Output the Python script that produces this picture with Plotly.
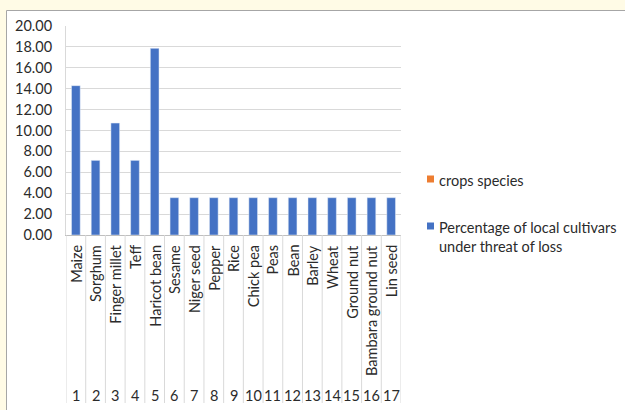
import plotly.graph_objects as go

numbers = list(range(1, 18))
crops = ["Maize", "Sorghum", "Finger millet", "Teff", "Haricot bean", "Sesame",
         "Niger seed", "Pepper", "Rice", "Chick pea", "Peas", "Bean", "Barley",
         "Wheat", "Ground nut", "Bambara ground nut", "Lin seed"]
percent = [14.29, 7.14, 10.71, 7.14, 17.86, 3.57, 3.57, 3.57, 3.57, 3.57,
           3.57, 3.57, 3.57, 3.57, 3.57, 3.57, 3.57]
y_ticks = [0, 2, 4, 6, 8, 10, 12, 14, 16, 18, 20]
legend_names = ["crops species", "Percentage of local cultivars<br>under threat of loss"]
legend_colors = ["#ED7D31", "#4472C4"]

W, H = 625, 410
L, R, T, B = 66, 224, 26, 175
pw, ph = W - L - R, H - T - B

def px_x(p):
    return (p - L) / pw

def px_y(p):
    return (H - B - p) / ph

FONT = "Lato"
FS = 14.5
TXT = "#2b2b2b"

fig = go.Figure()
fig.add_trace(go.Bar(x=numbers, y=percent, marker_color=legend_colors[1],
                     width=0.44, showlegend=False))

shapes = []
# chart frame
shapes.append(dict(type="rect", xref="paper", yref="paper",
                   x0=px_x(6.5), x1=px_x(700), y0=px_y(10.5), y1=px_y(500),
                   line=dict(color="#a6a6a6", width=1), fillcolor="white", layer="below"))
# category separators
for n in [numbers[0] - 0.5] + [v + 0.5 for v in numbers]:
    shapes.append(dict(type="line", xref="x", yref="paper", x0=n, x1=n,
                       y0=0, y1=px_y(403), line=dict(color="#d9d9d9", width=1)))

annotations = []
for n, c in zip(numbers, crops):
    annotations.append(dict(x=n, y=px_y(243), xref="x", yref="paper", text=c,
                            showarrow=False, textangle=-90, xanchor="center", yanchor="top",
                            font=dict(family=FONT, size=FS, color=TXT)))
    annotations.append(dict(x=n, y=px_y(395), xref="x", yref="paper", text=str(n),
                            showarrow=False, xanchor="center", yanchor="middle",
                            font=dict(family=FONT, size=FS, color=TXT)))

# legend
leg_y = [179, 226]
for name, col, yy in zip(legend_names, legend_colors, leg_y):
    shapes.append(dict(type="rect", xref="paper", yref="paper",
                       x0=px_x(427), x1=px_x(434), y0=px_y(yy - 3.5), y1=px_y(yy + 3.5),
                       line=dict(width=0), fillcolor=col))
    annotations.append(dict(x=px_x(437), y=px_y(yy - 9.5), xref="paper", yref="paper",
                            text=name, showarrow=False, xanchor="left", yanchor="top",
                            align="left",
                            font=dict(family=FONT, size=FS, color=TXT)))

fig.update_layout(
    width=W, height=H,
    margin=dict(l=L, r=R, t=T, b=B),
    paper_bgcolor="#FFFBE6",
    plot_bgcolor="white",
    shapes=shapes,
    annotations=annotations,
    showlegend=False,
    xaxis=dict(range=[0.5, 17.5], showticklabels=False, showgrid=False,
               zeroline=False, showline=True, linecolor="#bfbfbf", linewidth=1,
               fixedrange=True),
    yaxis=dict(range=[0, 20], tickvals=y_ticks, tickformat=".2f",
               showgrid=True, gridcolor="#d9d9d9", gridwidth=1,
               zeroline=False, showline=True, linecolor="#d9d9d9",
               ticklabelstandoff=10,
               tickfont=dict(family=FONT, size=FS, color=TXT), fixedrange=True),
    bargap=0.5,
)

fig.write_html("out.html")
